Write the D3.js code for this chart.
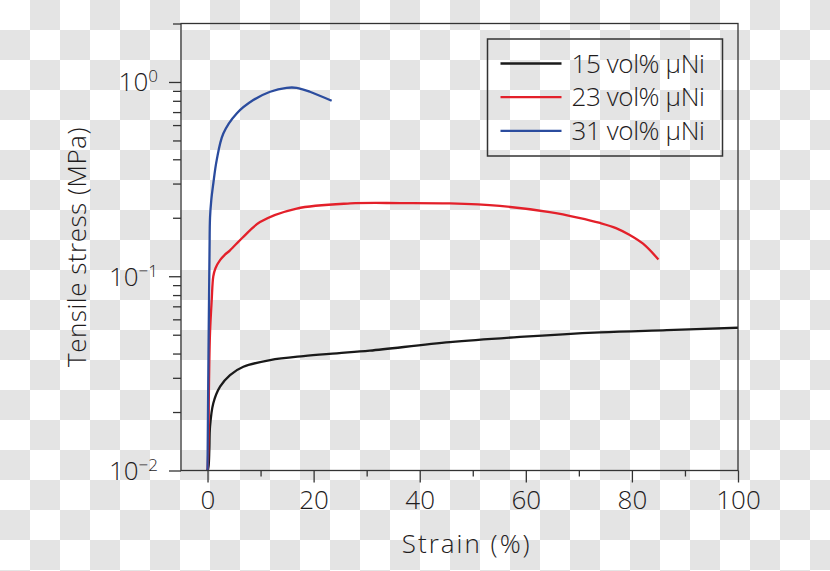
<!DOCTYPE html>
<html>
<head>
<meta charset="utf-8">
<script src="https://cdn.jsdelivr.net/npm/d3@7"></script>
<style>
  html, body { margin: 0; padding: 0; }
  body {
    width: 830px; height: 571px; overflow: hidden;
    background: repeating-conic-gradient(#e4e4e4 0 25%, #fff 0 50%) 0 0 / 60px 60px;
  }
  svg text { font-family: "Open Sans", sans-serif; font-weight: 300; fill: #1f1c1d; }
</style>
</head>
<body>
<div id="chart"></div>
<script>
// Tensile stress vs strain, log y axis, three Ni loadings
const seriesNames = ["15 vol% \u03bcNi", "23 vol% \u03bcNi", "31 vol% \u03bcNi"];
const seriesColors = ["#1a1a1a", "#e3202a", "#2b4c9e"];

// strain (%) and stress (MPa)
const strain15 = [0, 0.19, 0.34, 0.47, 1.09, 2.36, 4.24, 6.75, 11.8, 18.1, 24.4, 30.6, 45.7, 58.9, 74.0, 86.6, 100];
const stress15 = [0.01, 0.0105, 0.0128, 0.0168, 0.0222, 0.0270, 0.0310, 0.0342, 0.0370, 0.0388, 0.0401, 0.0414, 0.0458, 0.0487, 0.0514, 0.0528, 0.0543];

const strain23 = [0, 0.15, 0.28, 0.47, 0.79, 1.09, 1.5, 2.36, 3.2, 4.24, 6.8, 9.9, 16.8, 26.9, 36.3, 45.7, 55.1, 64.5, 70.0, 74.0, 77.0, 79.6, 82.1, 85.0];
const stress23 = [0.01, 0.0128, 0.0282, 0.051, 0.0754, 0.100, 0.110, 0.121, 0.1285, 0.136, 0.160, 0.190, 0.223, 0.237, 0.238, 0.237, 0.230, 0.214, 0.200, 0.188, 0.177, 0.163, 0.147, 0.122];

const strain31 = [0, 0.19, 0.38, 0.47, 0.7, 1.09, 1.73, 2.98, 5.5, 8.63, 11.8, 14.9, 16.8, 19.3, 23.4];
const stress31 = [0.01, 0.0417, 0.136, 0.200, 0.245, 0.300, 0.396, 0.543, 0.689, 0.807, 0.891, 0.933, 0.933, 0.891, 0.800];

const xMajor = [0, 20, 40, 60, 80, 100];
const xMinor = [10, 30, 50, 70, 90];
const yMajor = [0.01, 0.1, 1];
const yMajorExp = ["\u22122", "\u22121", "0"];
const yMinor = [0.02, 0.03, 0.04, 0.05, 0.06, 0.07, 0.08, 0.09,
                0.2, 0.3, 0.4, 0.5, 0.6, 0.7, 0.8, 0.9, 2];

const W = 830, H = 571;
const margin = { top: 23.5, right: 92, bottom: 100.5, left: 181 };
const width = W - margin.left - margin.right;
const height = H - margin.top - margin.bottom;

const svg = d3.select("#chart").append("svg")
    .attr("width", W).attr("height", H);
const g = svg.append("g")
    .attr("transform", `translate(${margin.left},${margin.top})`);

const x = d3.scaleLinear().domain([-5, 100]).range([0, width]);
const y = d3.scaleLog().domain([0.01, 2]).range([height, 0]);

const axisColor = "#333";

// curves
const lineGen = d3.line()
    .x(d => x(d[0]))
    .y(d => y(d[1]))
    .curve(d3.curveCatmullRom.alpha(0.5));

const data = [
    d3.zip(strain15, stress15),
    d3.zip(strain23, stress23),
    d3.zip(strain31, stress31)
];

g.selectAll(".curve")
    .data(data)
    .enter()
    .append("path")
    .attr("class", "curve")
    .attr("d", lineGen)
    .attr("fill", "none")
    .attr("stroke", (d, i) => seriesColors[i])
    .attr("stroke-width", 2.3);

// axes
function styleAxis(sel) {
    sel.select(".domain").remove();
    sel.selectAll(".tick line").attr("stroke", axisColor).attr("stroke-width", 1.3);
}

const xAxisMajor = g.append("g")
    .attr("transform", `translate(0,${height})`)
    .call(d3.axisBottom(x).tickValues(xMajor).tickSize(12).tickPadding(8).tickFormat(d3.format("d")));
styleAxis(xAxisMajor);
xAxisMajor.selectAll("text")
    .attr("font-size", 26).attr("fill", "#1f1c1d")
    .style("font-family", "'Open Sans', sans-serif");

const xAxisMinor = g.append("g")
    .attr("transform", `translate(0,${height})`)
    .call(d3.axisBottom(x).tickValues(xMinor).tickSize(6).tickFormat(""));
styleAxis(xAxisMinor);

const yAxisMajor = g.append("g")
    .call(d3.axisLeft(y).tickValues(yMajor).tickSize(12).tickFormat(""));
styleAxis(yAxisMajor);

const yAxisMinor = g.append("g")
    .call(d3.axisLeft(y).tickValues(yMinor).tickSize(8).tickFormat(""));
styleAxis(yAxisMinor);

// y tick labels with superscript exponents
yMajor.forEach((v, i) => {
    const t = g.append("text")
        .attr("x", -23)
        .attr("y", y(v) + 9.5)
        .attr("text-anchor", "end")
        .attr("font-size", 26);
    t.append("tspan").text("10");
    t.append("tspan").attr("dy", -9).attr("font-size", 17).text(yMajorExp[i]);
});

// frame
g.append("rect")
    .attr("x", 0).attr("y", 0)
    .attr("width", width).attr("height", height)
    .attr("fill", "none")
    .attr("stroke", axisColor)
    .attr("stroke-width", 1.3);

// axis titles
svg.append("text")
    .attr("x", margin.left + x(50) - 6)
    .attr("y", 553)
    .attr("text-anchor", "middle")
    .attr("font-size", 26)
    .attr("letter-spacing", 2)
    .text("Strain (%)");

svg.append("text")
    .attr("transform", `translate(86,${margin.top + height / 2}) rotate(-90)`)
    .attr("text-anchor", "middle")
    .attr("font-size", 26)
    .attr("letter-spacing", 0.5)
    .text("Tensile stress (MPa)");

// legend
const legend = svg.append("g").attr("transform", "translate(487.5,39)");
legend.append("rect")
    .attr("width", 235).attr("height", 117)
    .attr("fill", "none")
    .attr("stroke", axisColor)
    .attr("stroke-width", 1.5);

seriesNames.forEach((name, i) => {
    const row = legend.append("g").attr("transform", `translate(0,${24.5 + i * 33.7})`);
    row.append("line")
        .attr("x1", 13).attr("x2", 74)
        .attr("stroke", seriesColors[i])
        .attr("stroke-width", 2.3);
    row.append("text")
        .attr("x", 84).attr("y", 9)
        .attr("font-size", 26)
        .attr("letter-spacing", -0.4)
        .text(name);
});
</script>
</body>
</html>
